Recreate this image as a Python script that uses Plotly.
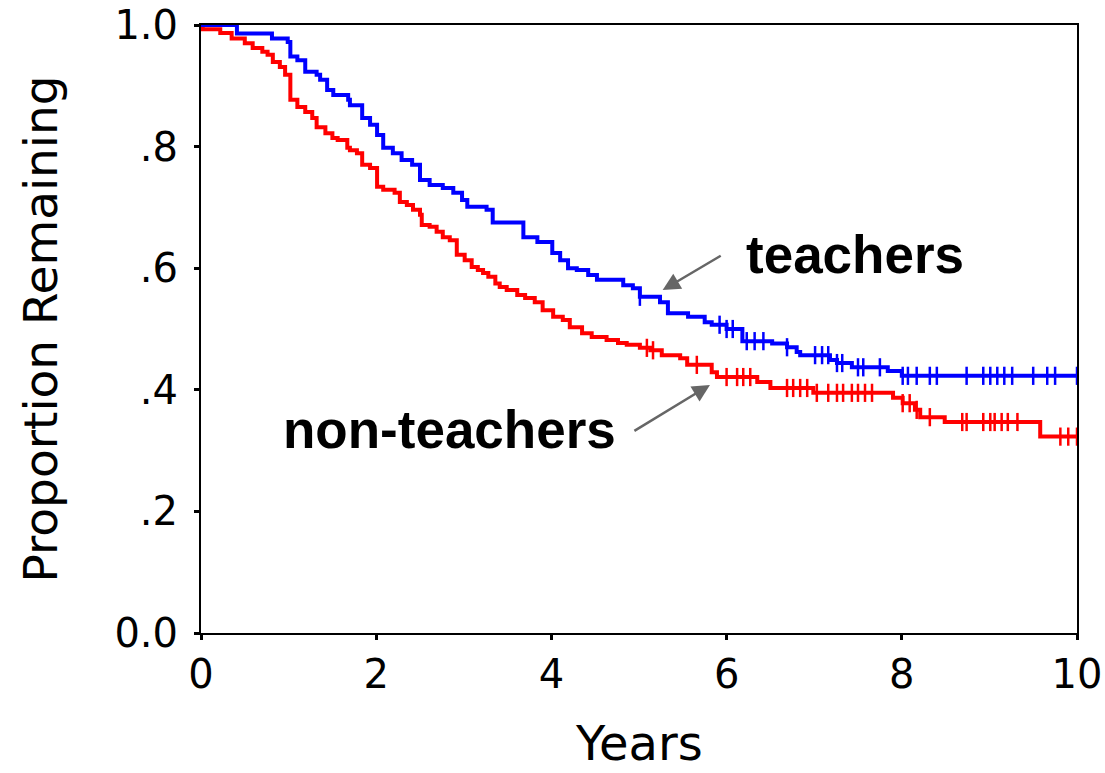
import numpy as np
import plotly.graph_objects as go

# ---- data (Kaplan-Meier style step curves) ----
teach_t = [0.00, 0.41, 0.81, 0.99, 1.02, 1.10, 1.19, 1.32, 1.36, 1.44, 1.51, 1.68, 1.70,
           1.84, 1.93, 2.01, 2.08, 2.19, 2.29, 2.41, 2.50, 2.61, 2.76, 2.88, 2.98, 3.04,
           3.26, 3.33, 3.68, 3.84, 4.01, 4.10, 4.19, 4.29, 4.42, 4.52, 4.82, 4.93, 5.01,
           5.24, 5.33, 5.56, 5.75, 5.83, 6.00, 6.18, 6.52, 6.69, 6.80, 6.84, 7.18, 7.26,
           7.43, 7.84, 8.00, 10.0]
teach_s = [1.000, 0.986, 0.978, 0.972, 0.948, 0.942, 0.923, 0.918, 0.910, 0.893, 0.885, 0.877, 0.868,
           0.847, 0.836, 0.819, 0.798, 0.789, 0.778, 0.770, 0.745, 0.737, 0.732, 0.724, 0.712, 0.701,
           0.696, 0.675, 0.651, 0.643, 0.625, 0.613, 0.600, 0.597, 0.589, 0.581, 0.572, 0.567, 0.553,
           0.544, 0.526, 0.520, 0.511, 0.507, 0.500, 0.480, 0.476, 0.470, 0.462, 0.457, 0.449, 0.444,
           0.437, 0.431, 0.423, 0.423]
teach_cens = [5.01, 5.92, 6.00, 6.07, 6.23, 6.32, 6.42, 6.69, 7.01, 7.09, 7.16, 7.26, 7.32,
              7.50, 7.56, 7.75, 8.01, 8.07, 8.17, 8.32, 8.40, 8.74, 8.93, 9.01, 9.09, 9.17,
              9.26, 9.50, 9.66, 9.75, 10.0]

non_t = [0.00, 0.02, 0.22, 0.35, 0.50, 0.59, 0.70, 0.76, 0.82, 0.90, 0.96, 1.02, 1.10, 1.19,
         1.27, 1.32, 1.42, 1.50, 1.56, 1.67, 1.70, 1.78, 1.84, 1.93, 2.01, 2.08, 2.21, 2.27,
         2.35, 2.42, 2.50, 2.52, 2.61, 2.69, 2.76, 2.84, 2.92, 3.01, 3.09, 3.16, 3.22, 3.28,
         3.36, 3.41, 3.49, 3.61, 3.70, 3.81, 3.90, 4.02, 4.13, 4.21, 4.35, 4.46, 4.63, 4.76,
         4.86, 5.01, 5.13, 5.26, 5.47, 5.55, 5.83, 5.89, 6.35, 6.50, 6.99, 7.90, 8.01, 8.15,
         8.21, 8.49, 9.58, 10.0]
non_s = [1.000, 0.993, 0.987, 0.978, 0.970, 0.962, 0.956, 0.951, 0.939, 0.931, 0.918, 0.877, 0.865, 0.857,
         0.847, 0.832, 0.822, 0.814, 0.811, 0.798, 0.794, 0.789, 0.770, 0.765, 0.734, 0.729, 0.724, 0.709,
         0.704, 0.696, 0.688, 0.671, 0.668, 0.660, 0.651, 0.646, 0.622, 0.613, 0.602, 0.597, 0.592, 0.586,
         0.575, 0.569, 0.564, 0.556, 0.551, 0.544, 0.531, 0.520, 0.515, 0.503, 0.493, 0.487, 0.482, 0.477,
         0.474, 0.469, 0.465, 0.457, 0.452, 0.441, 0.429, 0.421, 0.413, 0.403, 0.395, 0.387, 0.378, 0.367,
         0.355, 0.347, 0.323, 0.323]
non_cens = [5.09, 5.16, 5.66, 6.00, 6.12, 6.19, 6.27, 6.69, 6.76, 6.84, 6.92, 7.03, 7.16, 7.26,
            7.33, 7.43, 7.50, 7.58, 7.66, 8.01, 8.09, 8.17, 8.32, 8.69, 8.74, 8.93, 9.01, 9.06,
            9.14, 9.21, 9.32, 9.81, 9.90, 10.0]

x_ticks = [0, 2, 4, 6, 8, 10]
y_ticks = [0.0, 0.2, 0.4, 0.6, 0.8, 1.0]
y_ticktext = ["0.0", ".2", ".4", ".6", ".8", "1.0"]

labels = ["teachers", "non-teachers"]
x_title = "Years"
y_title = "Proportion Remaining"


def step_value(ts, ss, t):
    i = int(np.searchsorted(np.asarray(ts), t, side="right")) - 1
    return ss[max(i, 0)]


fig = go.Figure()
for ts, ss, cens, color, name in [
    (non_t, non_s, non_cens, "#ff0000", labels[1]),
    (teach_t, teach_s, teach_cens, "#0000ff", labels[0]),
]:
    fig.add_trace(go.Scatter(x=ts, y=ss, mode="lines", line=dict(color=color, width=4, shape="hv"),
                             name=name, showlegend=False, cliponaxis=False, hoverinfo="skip"))
    fig.add_trace(go.Scatter(x=cens, y=[step_value(ts, ss, c) for c in cens], mode="markers",
                             marker=dict(symbol="line-ns-open", size=13, color=color,
                                         line=dict(color=color, width=2.5)),
                             showlegend=False, cliponaxis=False, hoverinfo="skip"))

ann_font = dict(family="Liberation Sans, Arial, sans-serif", size=53, color="black")
fig.add_annotation(x=7.47, y=0.622, text="<b>teachers</b>", showarrow=False, font=ann_font)
fig.add_annotation(x=2.84, y=0.334, text="<b>non-teachers</b>", showarrow=False, font=ann_font)
arrow = dict(showarrow=True, text="", axref="x", ayref="y", arrowcolor="#666666",
             arrowwidth=2.5, arrowhead=2, arrowsize=1.4)
fig.add_annotation(x=5.27, y=0.564, ax=5.95, ay=0.622, **arrow)
fig.add_annotation(x=5.81, y=0.408, ax=4.93, ay=0.331, **arrow)

# x-axis title placed below the tick labels
fig.add_annotation(x=0.5, y=-0.2286, xref="paper", yref="paper", text=x_title, showarrow=False,
                   xanchor="center", yanchor="bottom", borderpad=0,
                   font=dict(family="DejaVu Sans, sans-serif", size=48, color="black"))

tick_font = dict(family="DejaVu Sans, sans-serif", size=40, color="black")
fig.update_xaxes(range=[0, 10], tickvals=x_ticks, ticks="outside", ticklen=5, tickwidth=3,
                 tickcolor="black", showline=True, linecolor="black", linewidth=2, mirror=True,
                 showgrid=False, zeroline=False, tickfont=tick_font)
fig.update_yaxes(range=[0, 1], tickvals=y_ticks, ticktext=y_ticktext, ticks="outside", ticklen=5,
                 tickwidth=3, tickcolor="black", showline=True, linecolor="black", linewidth=2,
                 mirror=True, showgrid=False, zeroline=False, tickfont=tick_font,
                 ticklabelstandoff=8,
                 title=dict(text=y_title,
                            font=dict(family="DejaVu Sans, sans-serif", size=47, color="black"),
                            standoff=42))
fig.update_layout(width=1105, height=773, plot_bgcolor="white", paper_bgcolor="white",
                  hovermode=False,
                  margin=dict(l=201, r=28, t=25, b=140, autoexpand=False))
fig.write_html("out.html", config={"displayModeBar": False},
               post_script="document.body.style.margin='0';document.body.style.overflow='hidden';")
